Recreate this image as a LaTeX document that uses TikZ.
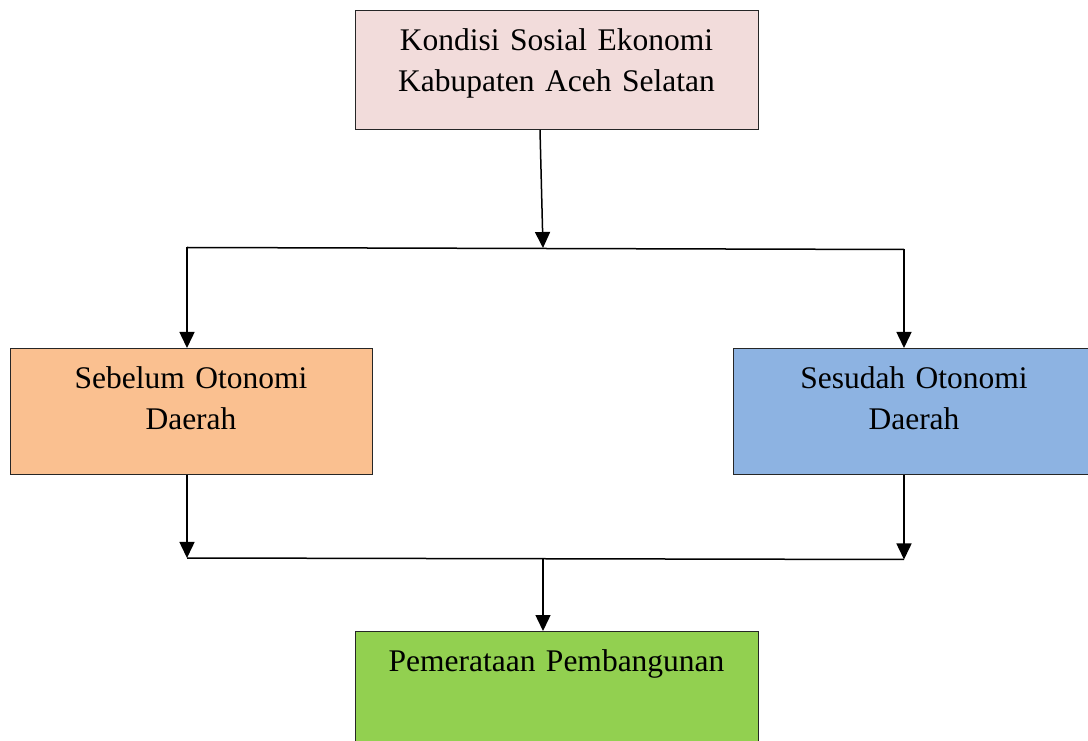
\documentclass[tikz,border=0pt]{standalone}
\usepackage{fontspec}
\setmainfont{Liberation Serif}
\usepackage{tikz}
\usetikzlibrary{arrows.meta, positioning}

\definecolor{kotakPink}{HTML}{F2DCDB}
\definecolor{kotakOranye}{HTML}{FAC090}
\definecolor{kotakBiru}{HTML}{8DB3E2}
\definecolor{kotakHijau}{HTML}{92D050}

\begin{document}
\begin{tikzpicture}[x=1pt,y=1pt,>={Triangle[length=16pt,width=15pt]},
        every node/.style={font=\fontsize{31.5}{41}\selectfont},
        kotak/.style={draw=black!85,line width=1pt,anchor=north,inner sep=0pt,align=center,text height=40pt},
        panah/.style={->,line width=1.5pt}]
    \useasboundingbox (0,0) rectangle (1088,740);
    \clip (0,0) rectangle (1088,740);

      \node[kotak,fill=kotakPink,text width=403pt,text depth=79pt]   (kondisi)    at (556.5,730) {Kondisi Sosial Ekonomi\\Kabupaten Aceh Selatan};
      \node[kotak,fill=kotakOranye,text width=362pt,text depth=86pt] (sebelum)    at (191,392)   {Sebelum Otonomi\\Daerah};
      \node[kotak,fill=kotakBiru,text width=362pt,text depth=86pt]   (sesudah)    at (914,392)   {Sesudah Otonomi\\Daerah};
      \node[kotak,fill=kotakHijau,text width=403pt,text depth=120pt] (pemerataan) at (556.5,109) {Pemerataan Pembangunan};

      \coordinate (cabangAtas)  at (543,492);
      \coordinate (kiriAtas)    at (187,492.5);
      \coordinate (kananAtas)   at (904,490.5);
      \coordinate (kiriBawah)   at (187,182);
      \coordinate (kananBawah)  at (904,180.5);
      \coordinate (cabangBawah) at (543,181);

      \draw[panah] ([xshift=-16.5pt]kondisi.south) -- (cabangAtas);
      \draw[line width=1.5pt] (kiriAtas) -- (kananAtas);
      \draw[panah] (kiriAtas) -- (kiriAtas |- sebelum.north);
      \draw[panah] (kananAtas) -- (kananAtas |- sesudah.north);
      \draw[panah] (kiriAtas |- sebelum.south) -- (kiriBawah);
      \draw[panah] (kananAtas |- sesudah.south) -- (kananBawah);
      \draw[line width=1.5pt] (kiriBawah) -- (kananBawah);
      \draw[panah] (cabangBawah) -- (cabangBawah |- pemerataan.north);
    \end{tikzpicture}
\end{document}
